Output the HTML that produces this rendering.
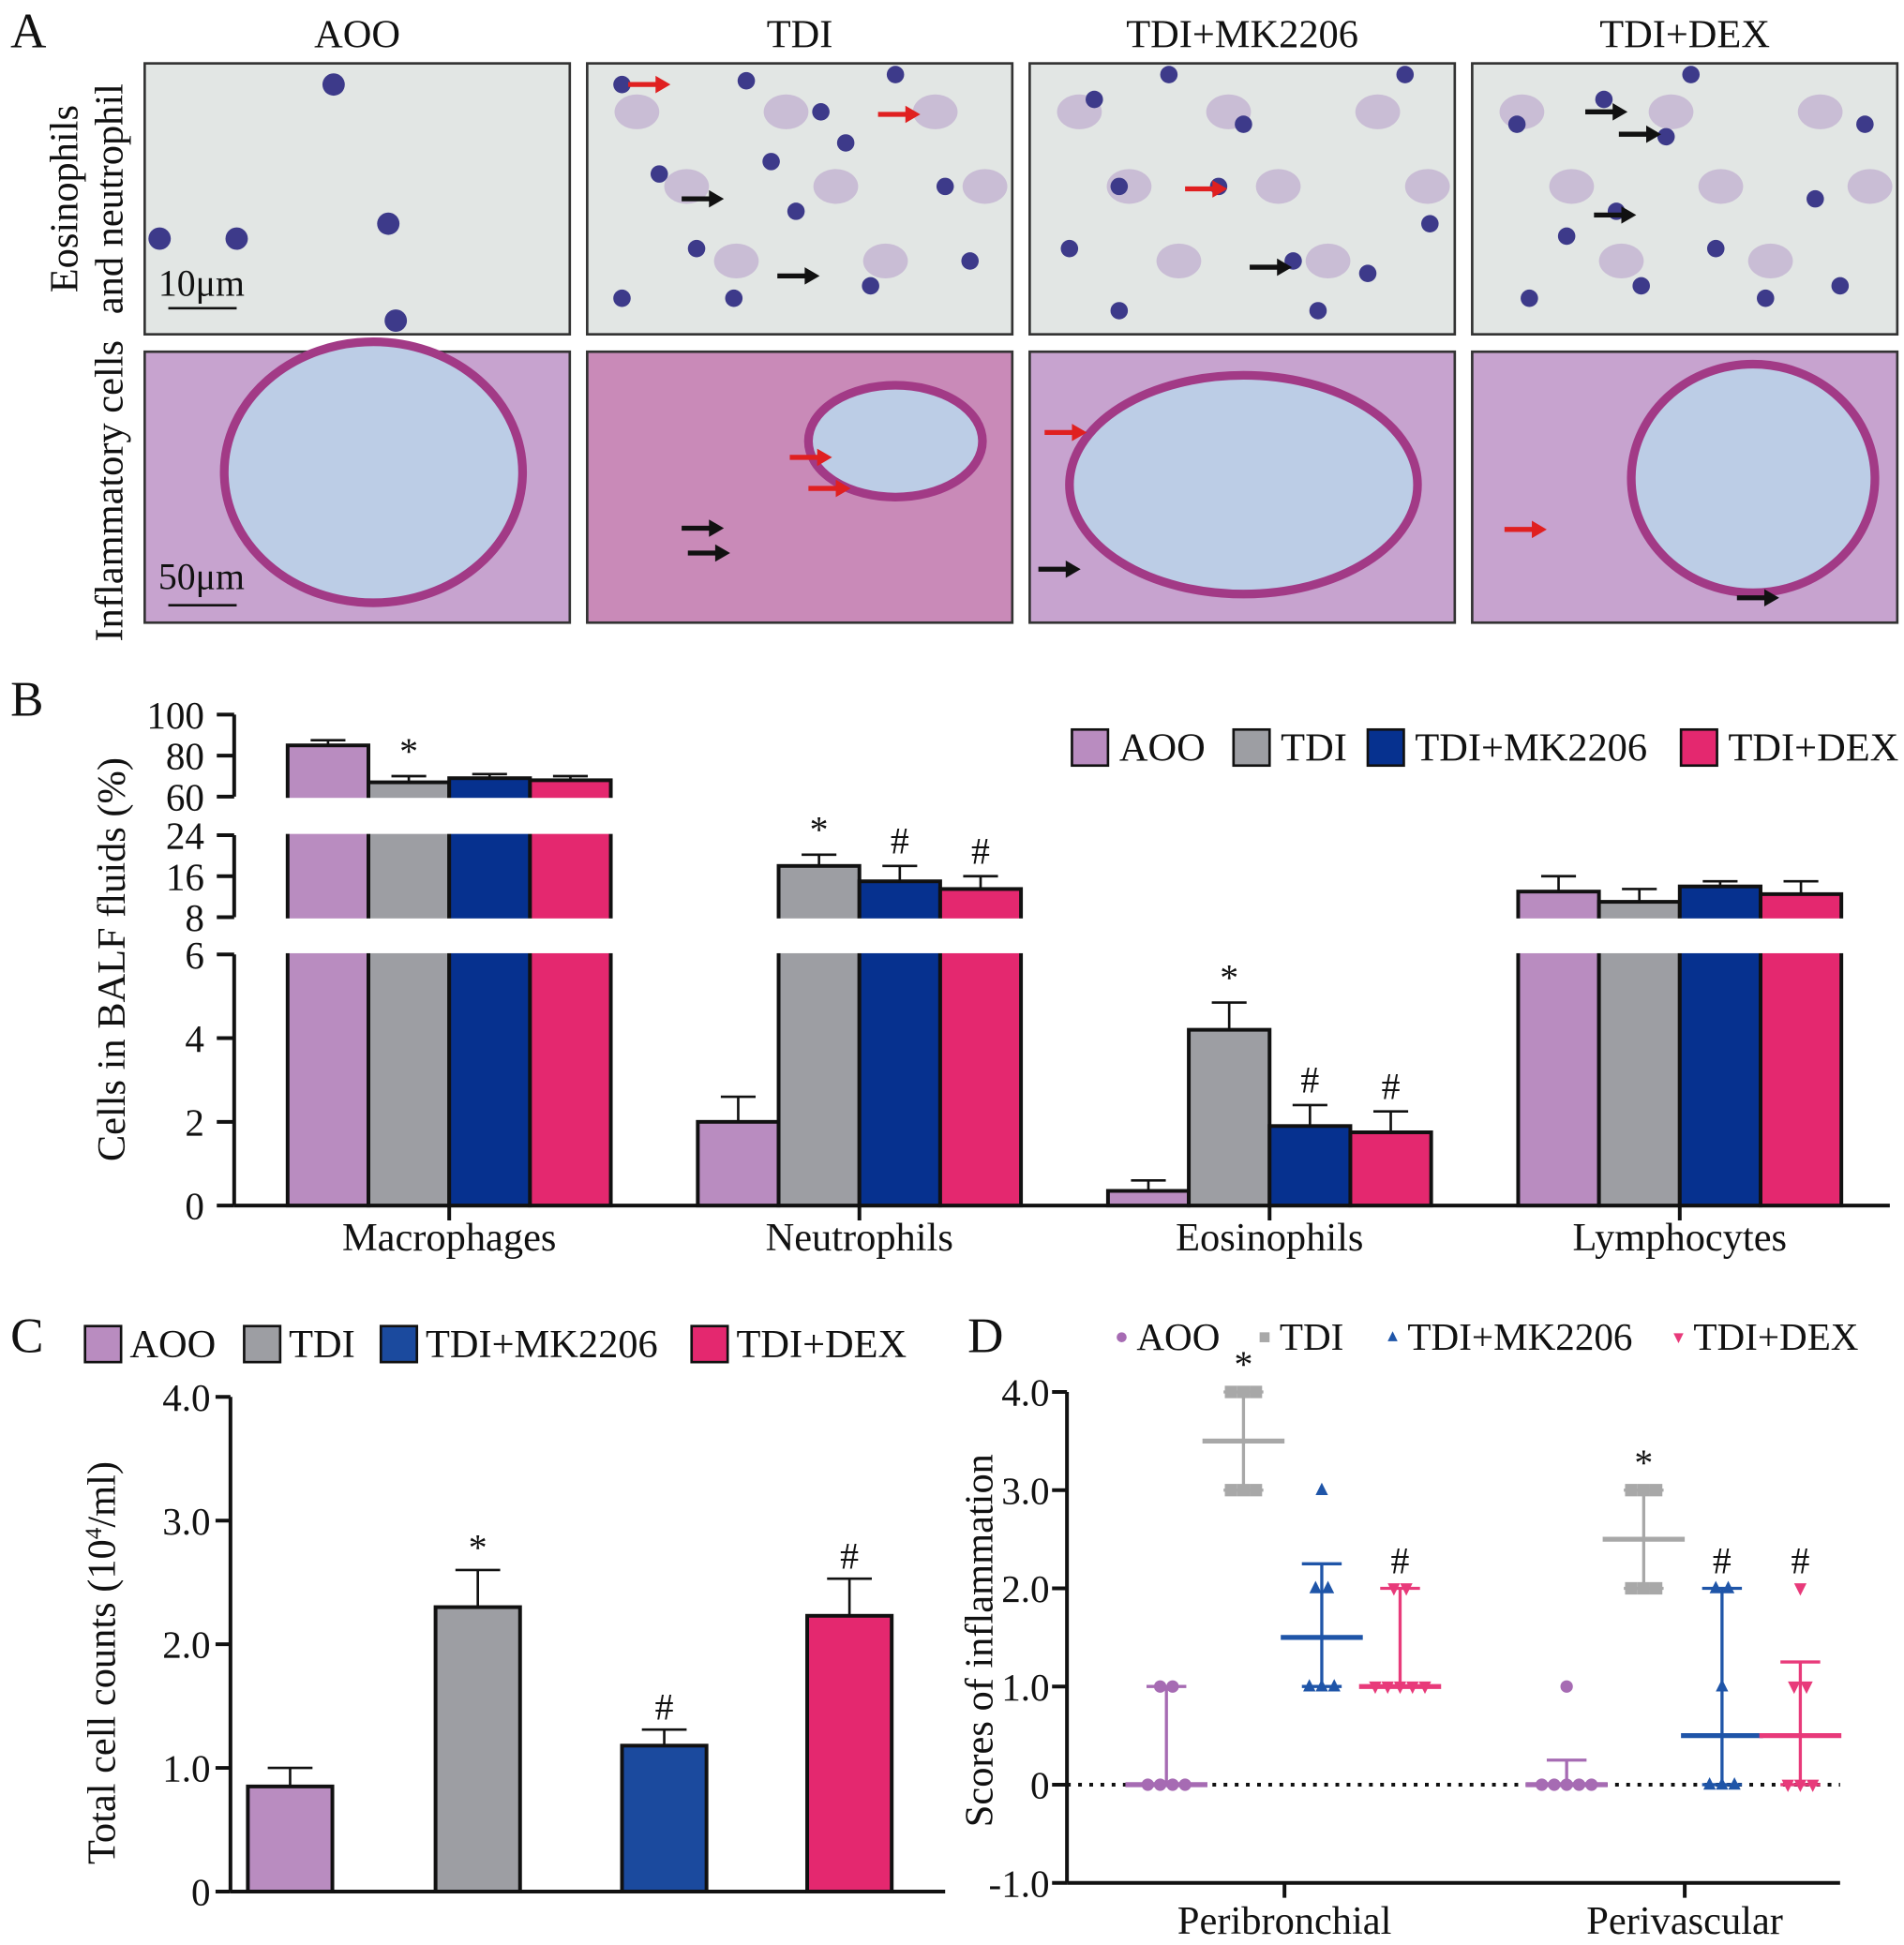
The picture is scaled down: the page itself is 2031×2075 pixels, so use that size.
<!DOCTYPE html>
<html><head><meta charset="utf-8"><style>
html,body{margin:0;padding:0;background:#fff;width:2031px;height:2075px;overflow:hidden}
text{font-family:"Liberation Serif","Times New Roman",serif;fill:#111}
</style></head><body>
<svg id="fig" width="2031" height="2075" viewBox="0 0 1531 1565" xmlns="http://www.w3.org/2000/svg" font-family="Liberation Serif, serif">
<g id="pa"></g>
<g id="pb"></g>
<g id="pc"></g>
<g id="pd"></g>
</svg>
<script>
const groupsB = ["Macrophages","Neutrophils","Eosinophils","Lymphocytes"];
const seriesNames = ["AOO","TDI","TDI+MK2206","TDI+DEX"];
const valsAOO_B = [85, 2.0, 0.35, 13];
const valsTDI_B = [67, 18, 4.2, 11];
const valsMK_B = [69, 15, 1.9, 14];
const valsDEX_B = [68, 13.5, 1.75, 12.5];
const errAOO_B = [2.5, 0.6, 0.25, 3];
const errTDI_B = [3, 2.2, 0.65, 2.5];
const errMK_B = [2, 3, 0.5, 1];
const errDEX_B = [2, 2.5, 0.5, 2.5];
const marksB = [["", "*", "", ""], ["", "*", "#", "#"], ["", "*", "#", "#"], ["", "", "", ""]];
const ticksB = [0,2,4,6,8,16,24,60,80,100];

const catsC = ["AOO","TDI","TDI+MK2206","TDI+DEX"];
const valsC = [0.85, 2.3, 1.18, 2.23];
const errC = [0.15, 0.3, 0.13, 0.3];
const marksC = ["", "*", "#", "#"];
const ticksC = [0,1,2,3,4];
const tickLabelsC = ["0","1.0","2.0","3.0","4.0"];

const groupsD = ["Peribronchial","Perivascular"];
const ptsAOO_D = [[0,0,0,0,1,1],[1,0,0,0,0,0]];
const ptsTDI_D = [[4,4,4,3,3,3],[3,3,3,2,2,2]];
const ptsMK_D = [[3,2,2,1,1,1],[2,2,1,0,0,0]];
const ptsDEX_D = [[2,2,1,1,1,1,1],[2,1,1,0,0,0]];
const medD = [[0,3.5,1.5,1],[0,2.5,0.5,0.5]];
const loD = [[0,3,1,1],[0,2,0,0]];
const hiD = [[1,4,2.25,2],[0.25,3,2,1.25]];
const marksD = [["","*","","#"],["","*","#","#"]];
const ticksD = [-1,0,1,2,3,4];
const tickLabelsD = ["-1.0","0","1.0","2.0","3.0","4.0"];

const NS="http://www.w3.org/2000/svg";
function el(parent,tag,attrs,txt){const e=document.createElementNS(NS,tag);for(const k in attrs)e.setAttribute(k,attrs[k]);if(txt!==undefined)e.textContent=txt;parent.appendChild(e);return e;}

// ---------- Panel A ----------
const pa=document.getElementById('pa');
let t=el(pa,'text',{x:8,y:38,'font-size':40});t.textContent='A';

const colX=[116,472,828,1184], colTitle=["AOO","TDI","TDI+MK2206","TDI+DEX"];
colX.forEach((x,i)=>{const tt=el(pa,'text',{x:x+171,y:38,'font-size':32,'text-anchor':'middle'},colTitle[i]);
});
let rl=el(pa,'text',{transform:'translate(62,160) rotate(-90)','font-size':32,'text-anchor':'middle'},'Eosinophils');

rl=el(pa,'text',{transform:'translate(98,160) rotate(-90)','font-size':32,'text-anchor':'middle'},'and neutrophil');

rl=el(pa,'text',{transform:'translate(98,395) rotate(-90)','font-size':32,'text-anchor':'middle'},'Inflammatory cells');

const dotsTop=[[[268,68],[128,192],[190,192],[312,180],[318,258]],
 [[500,68],[600,65],[530,140],[680,115],[700,230],[560,200],[640,170],[760,150],[720,60],[500,240],[590,240],[780,210],[660,90],[620,130]],
 [[880,80],[900,150],[980,150],[1040,210],[1100,220],[1060,250],[860,200],[1000,100],[1130,60],[940,60],[1150,180],[900,250]],
 [[1220,100],[1290,80],[1340,110],[1260,190],[1300,170],[1230,240],[1380,200],[1460,160],[1500,100],[1420,240],[1360,60],[1480,230],[1320,230]]];
const lumens=[[300,380,120,105],[720,355,70,45],[1000,390,140,88],[1410,385,98,92]];
colX.forEach((x,i)=>{
 const r=el(pa,'rect',{x:x,y:51,width:342,height:218,fill:'#e2e6e4',stroke:'#333','stroke-width':2});
 
 if(i>0){for(let k=0;k<8;k++)el(pa,'ellipse',{cx:x+40+k*40,cy:90+(k%3)*60,rx:18,ry:14,fill:'#b59ac8',opacity:0.55});}
 dotsTop[i].forEach(p=>el(pa,'circle',{cx:p[0],cy:p[1],r:i==0?9:7,fill:'#3d3a8a'}));
 const b=el(pa,'rect',{x:x,y:283,width:342,height:218,fill:i==1?'#c98ab8':'#c7a3cf',stroke:'#333','stroke-width':2});
 
 const L=lumens[i];
 el(pa,'ellipse',{cx:L[0],cy:L[1],rx:L[2],ry:L[3],fill:'#bccde6',stroke:'#a23a86','stroke-width':7});
});
el(pa,'line',{x1:135,y1:248,x2:190,y2:248,stroke:'#111','stroke-width':2});
el(pa,'text',{x:127,y:238,'font-size':30},'10μm');
el(pa,'line',{x1:135,y1:487,x2:190,y2:487,stroke:'#111','stroke-width':2});
el(pa,'text',{x:127,y:474,'font-size':30},'50μm');
const arrows=[[505,68,'r'],[706,92,'r'],[548,160,'k'],[625,222,'k'],[953,152,'r'],[1005,215,'k'],[1275,90,'k'],[1302,108,'k'],[1282,173,'k'],
 [635,368,'r'],[650,393,'r'],[548,425,'k'],[553,445,'k'],[840,348,'r'],[835,458,'k'],[1210,426,'r'],[1397,481,'k']];
arrows.forEach(a=>{const c=a[2]=='r'?'#e02020':'#111';
 el(pa,'line',{x1:a[0],y1:a[1],x2:a[0]+26,y2:a[1],stroke:c,'stroke-width':4});
 el(pa,'polygon',{points:`${a[0]+34},${a[1]} ${a[0]+22},${a[1]-7} ${a[0]+22},${a[1]+7}`,fill:c});});

// ---------- Panel B ----------
const pb=document.getElementById('pb');
const colB=["#b98cc0","#9d9ea3","#06318f","#e4286f"];
t=el(pb,'text',{x:8,y:576,'font-size':40},'B');
const axB=188, x1B=1520;
function yB(v){
 if(v<=6) return 970-v*(970-768)/6;
 if(v<=24) return 738-(Math.max(v,8)-8)*(738-672)/16;
 return 641-(Math.max(v,60)-60)*(641-575)/40;
}
const segs=[[0,6],[8,24],[60,100]];
segs.forEach(s=>el(pb,'line',{x1:axB,y1:yB(s[0]),x2:axB,y2:yB(s[1]),stroke:'#111','stroke-width':3}));
ticksB.forEach(v=>{el(pb,'line',{x1:axB-14,y1:yB(v),x2:axB,y2:yB(v),stroke:'#111','stroke-width':3});
 const tl=el(pb,'text',{x:axB-24,y:yB(v)+11,'font-size':31,'text-anchor':'end'},String(v));
 });
let yl=el(pb,'text',{transform:'translate(100,772) rotate(-90)','font-size':32,'text-anchor':'middle'},'Cells in BALF fluids (%)');

el(pb,'line',{x1:axB,y1:970,x2:x1B,y2:970,stroke:'#111','stroke-width':3});
const valsB=[valsAOO_B,valsTDI_B,valsMK_B,valsDEX_B], errB=[errAOO_B,errTDI_B,errMK_B,errDEX_B];
const centersB=groupsB.map((g,i)=>361+i*330);
const bw=65;
groupsB.forEach((g,gi)=>{
 const gl=el(pb,'text',{x:centersB[gi],y:1006,'font-size':32,'text-anchor':'middle'},g);
 
 el(pb,'line',{x1:centersB[gi],y1:970,x2:centersB[gi],y2:982,stroke:'#111','stroke-width':3});
 for(let s=0;s<4;s++){
  const v=valsB[s][gi], e=errB[s][gi], x=centersB[gi]-130+s*bw;
  const top=yB(v);
  el(pb,'line',{x1:x+bw/2,y1:top,x2:x+bw/2,y2:yB(v+e),stroke:'#111','stroke-width':2});
  el(pb,'line',{x1:x+bw/2-14,y1:yB(v+e),x2:x+bw/2+14,y2:yB(v+e),stroke:'#111','stroke-width':2});
  const bar=el(pb,'rect',{x:x,y:top,width:bw,height:970-top,fill:colB[s],stroke:'#111','stroke-width':3});
  
 }
});
el(pb,'rect',{x:axB+2,y:yB(6)-29,width:x1B-axB,height:28,fill:'#fff'});
el(pb,'rect',{x:axB+2,y:yB(24)-30,width:x1B-axB,height:29,fill:'#fff'});
groupsB.forEach((g,gi)=>{for(let s=0;s<4;s++){
  const v=valsB[s][gi], e=errB[s][gi], x=centersB[gi]-130+s*bw, m=marksB[gi][s];
  if(m){const mt=el(pb,'text',{x:x+bw/2,y:yB(v+e)-10,'font-size':30,'text-anchor':'middle'},m);
   }
}});
const legBx=[862,992,1100,1352];
seriesNames.forEach((n,i)=>{
 const r=el(pb,'rect',{x:legBx[i],y:587,width:29,height:29,fill:colB[i],stroke:'#111','stroke-width':2});
 
 const lt=el(pb,'text',{x:legBx[i]+38,y:612,'font-size':32},n);
 });

// ---------- Panel C ----------
const pc=document.getElementById('pc');
const colC=["#b98cc0","#9d9ea3","#1b4a9e","#e4286f"];
t=el(pc,'text',{x:8,y:1088,'font-size':40},'C');
const legCx=[68,196,306,556];
catsC.forEach((n,i)=>{
 el(pc,'rect',{x:legCx[i],y:1067,width:29,height:29,fill:colC[i],stroke:'#111','stroke-width':2});
 const lt=el(pc,'text',{x:legCx[i]+36,y:1092,'font-size':32},n);
 });
const axC=185;
function yC(v){return 1522-v*(1522-1124)/4;}
el(pc,'line',{x1:axC,y1:yC(0),x2:axC,y2:yC(4),stroke:'#111','stroke-width':3});
el(pc,'line',{x1:axC,y1:1522,x2:760,y2:1522,stroke:'#111','stroke-width':3});
ticksC.forEach((v,i)=>{el(pc,'line',{x1:axC-12,y1:yC(v),x2:axC,y2:yC(v),stroke:'#111','stroke-width':3});
 const tl=el(pc,'text',{x:axC-16,y:yC(v)+11,'font-size':31,'text-anchor':'end'},tickLabelsC[i]);
 });
yl=el(pc,'text',{transform:'translate(92,1338) rotate(-90)','font-size':32,'text-anchor':'middle'});

yl.innerHTML='Total cell counts (10<tspan dy="-11" font-size="19">4</tspan><tspan dy="11">/ml)</tspan>';
const cxC=[233,384,534,683];
valsC.forEach((v,i)=>{
 const x=cxC[i]-34, top=yC(v), et=yC(v+errC[i]);
 el(pc,'line',{x1:cxC[i],y1:top,x2:cxC[i],y2:et,stroke:'#111','stroke-width':2});
 el(pc,'line',{x1:cxC[i]-18,y1:et,x2:cxC[i]+18,y2:et,stroke:'#111','stroke-width':2});
 const bar=el(pc,'rect',{x:x,y:top,width:68,height:1522-top,fill:colC[i],stroke:'#111','stroke-width':3});
 
 if(marksC[i]){const mt=el(pc,'text',{x:cxC[i],y:et-8,'font-size':30,'text-anchor':'middle'},marksC[i]);
  }
});

// ---------- Panel D ----------
const pd=document.getElementById('pd');
const colD=["#a66bb3","#a8a8a8","#1f55a8","#e83a7a"];
t=el(pd,'text',{x:778,y:1088,'font-size':40},'D');
const axD=858;
function yD(v){return 1436-v*79;}
el(pd,'line',{x1:axD,y1:yD(-1),x2:axD,y2:yD(4),stroke:'#111','stroke-width':3});
el(pd,'line',{x1:axD,y1:yD(-1),x2:1480,y2:yD(-1),stroke:'#111','stroke-width':3});
el(pd,'line',{x1:axD,y1:yD(0),x2:1480,y2:yD(0),stroke:'#111','stroke-width':3,'stroke-dasharray':'3,6'});
ticksD.forEach((v,i)=>{el(pd,'line',{x1:axD-12,y1:yD(v),x2:axD,y2:yD(v),stroke:'#111','stroke-width':3});
 const tl=el(pd,'text',{x:axD-14,y:yD(v)+11,'font-size':31,'text-anchor':'end'},tickLabelsD[i]);
 });
yl=el(pd,'text',{transform:'translate(798,1320) rotate(-90)','font-size':32,'text-anchor':'middle'},'Scores of inflammation');

const centersD=[1033,1355], offD=[-95,-33,30,93];
const ptsD=[ptsAOO_D,ptsTDI_D,ptsMK_D,ptsDEX_D];
function marker(g,shape,x,y,c,sz){
 if(shape==0) return el(g,'circle',{cx:x,cy:y,r:sz,fill:c});
 if(shape==1) return el(g,'rect',{x:x-sz,y:y-sz,width:2*sz,height:2*sz,fill:c});
 if(shape==2) return el(g,'polygon',{points:`${x},${y-sz*1.2} ${x-sz},${y+sz*0.8} ${x+sz},${y+sz*0.8}`,fill:c});
 return el(g,'polygon',{points:`${x},${y+sz*1.2} ${x-sz},${y-sz*0.8} ${x+sz},${y-sz*0.8}`,fill:c});
}
groupsD.forEach((g,gi)=>{
 el(pd,'line',{x1:centersD[gi],y1:yD(-1),x2:centersD[gi],y2:yD(-1)+12,stroke:'#111','stroke-width':3});
 const gl=el(pd,'text',{x:centersD[gi],y:1556,'font-size':32,'text-anchor':'middle'},g);
 
 for(let s=0;s<4;s++){
  const cx=centersD[gi]+offD[s], c=colD[s];
  el(pd,'line',{x1:cx,y1:yD(loD[gi][s]),x2:cx,y2:yD(hiD[gi][s]),stroke:c,'stroke-width':2.5});
  el(pd,'line',{x1:cx-16,y1:yD(hiD[gi][s]),x2:cx+16,y2:yD(hiD[gi][s]),stroke:c,'stroke-width':2.5});
  el(pd,'line',{x1:cx-16,y1:yD(loD[gi][s]),x2:cx+16,y2:yD(loD[gi][s]),stroke:c,'stroke-width':2.5});
  const ml=el(pd,'line',{x1:cx-33,y1:yD(medD[gi][s]),x2:cx+33,y2:yD(medD[gi][s]),stroke:c,'stroke-width':4});
  
  const pts=ptsD[s][gi], counts={};
  pts.forEach(v=>counts[v]=(counts[v]||0)+1);
  const seen={};
  pts.forEach(v=>{const k=seen[v]||0;seen[v]=k+1;const n=counts[v];
   const m=marker(pd,s,cx+(k-(n-1)/2)*10,yD(v),c,5);
   });
  const mk=marksD[gi][s];
  const topV=Math.max(hiD[gi][s],Math.max(...pts));
  if(mk){const mt=el(pd,'text',{x:cx,y:yD(topV)-12,'font-size':30,'text-anchor':'middle'},mk);
   }
 }
});
const legDx=[902,1017,1120,1350];
seriesNames.forEach((n,i)=>{
 marker(pd,i,legDx[i],1076,colD[i],4);
 const lt=el(pd,'text',{x:legDx[i]+12,y:1086,'font-size':31},n);
 });
</script>
</body></html>
